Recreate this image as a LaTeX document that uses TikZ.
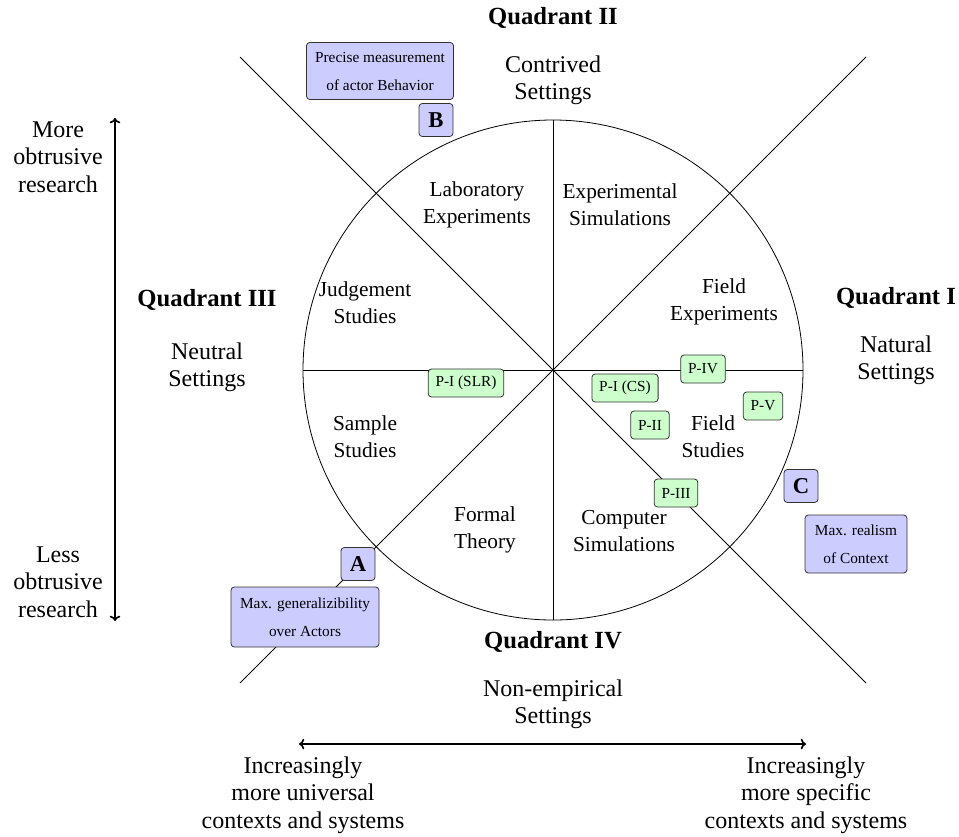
\documentclass[tikz,border=0pt]{standalone}
\usepackage{fontspec}
\setmainfont{Liberation Serif}
\usetikzlibrary{arrows.meta}
\definecolor{pboxfill}{HTML}{CCFFCC}
\definecolor{qboxfill}{HTML}{CCCCFF}
\definecolor{boxline}{HTML}{333333}
\begin{document}
\begin{tikzpicture}[x=0.75pt,y=-0.75pt,
  lbl/.style={align=center,font=\fontsize{16}{20.5}\selectfont,inner sep=0pt},
  outer/.style={align=center,font=\fontsize{18}{20.6}\selectfont,inner sep=0pt},
  quad/.style={font=\fontsize{18.5}{22}\selectfont\bfseries,inner sep=0pt},
  pbox/.style={draw=boxline,fill=pboxfill,rounded corners=2.5pt,line width=0.6pt,font=\fontsize{11.5}{14}\selectfont,inner xsep=5.5pt,inner ysep=2pt,minimum height=21pt},
  qbox/.style={draw=boxline,fill=qboxfill,rounded corners=2.5pt,line width=0.6pt,align=center,font=\fontsize{11.5}{21}\selectfont,inner sep=0pt},
  letter/.style={draw=boxline,fill=qboxfill,rounded corners=2.5pt,line width=0.6pt,font=\fontsize{17}{20}\selectfont\bfseries,minimum width=34*0.75pt,minimum height=33*0.75pt,inner sep=0pt},
  dbl/.style={line width=1.3pt,{To[length=4pt,width=8pt]}-{To[length=4pt,width=8pt]}},
  thin/.style={line width=0.6pt}]
\useasboundingbox (0,0) rectangle (959,836);
% main geometry
\coordinate (c) at (553,370);
\coordinate (d1a) at (240,57);
\coordinate (d1b) at (866,683);
\coordinate (d2a) at (866,57);
\coordinate (d2b) at (240,683);
\coordinate (vt) at (553,120);
\coordinate (vb) at (553,620);
\coordinate (hl) at (303,370);
\coordinate (hr) at (803,370);
\draw[thin] (c) circle[radius=250];
\draw[thin] (d1a) -- (d1b);
\draw[thin] (d2a) -- (d2b);
\draw[thin] (vt) -- (vb);
\draw[thin] (hl) -- (hr);
% quadrant labels
\node[quad] (q2) at (553,18) {Quadrant II};
\node[outer] (q2s) at (553,80) {Contrived\\Settings};
\node[quad] (q3) at (207,300) {Quadrant III};
\node[outer] (q3s) at (207,367) {Neutral\\Settings};
\node[quad] (q1) at (896,298) {Quadrant I};
\node[outer] (q1s) at (896,360) {Natural\\Settings};
\node[quad] (q4) at (553,642) {Quadrant IV};
\node[outer] (q4s) at (553,704) {Non-empirical\\Settings};
% sector labels
\node[lbl] (lab) at (477,205) {Laboratory\\Experiments};
\node[lbl] (esim) at (620,205) {Experimental\\Simulations};
\node[lbl] (judg) at (365,303) {Judgement\\Studies};
\node[lbl] (fexp) at (724,302) {Field\\Experiments};
\node[lbl] (samp) at (365,437) {Sample\\Studies};
\node[lbl] (fstud) at (713,437) {Field\\Studies};
\node[lbl] (form) at (485,530) {Formal\\Theory};
\node[lbl] (csim) at (624,531) {Computer\\Simulations};
% side axes
\node[outer] (more) at (58,157) {More\\obtrusive\\research};
\node[outer] (less) at (58,582) {Less\\obtrusive\\research};
\coordinate (at) at (115,118);
\coordinate (ab) at (115,621);
\draw[dbl] (ab) -- (at);
\node[outer] (univ) at (303,795) {Increasingly\\more universal\\contexts and systems};
\node[outer] (spec) at (806,795) {Increasingly\\more specific\\contexts and systems};
\coordinate (bl) at (299,744);
\coordinate (br) at (806,744);
\draw[dbl] (bl) -- (br);
% paper boxes
\node[pbox] (p1slr) at (466,383) {P-I (SLR)};
\node[pbox] (p1cs) at (625,388) {P-I (CS)};
\node[pbox] (p4) at (703,369) {P-IV};
\node[pbox] (p2) at (650,425) {P-II};
\node[pbox] (p5) at (763,406) {P-V};
\node[pbox] (p3) at (676,493) {P-III};
% criteria boxes
\node[qbox,minimum width=147*0.75pt,minimum height=57*0.75pt] (bb) at (380,71) {Precise measurement\\of actor Behavior};
\node[letter] (B) at (436,120) {B};
\node[letter] (A) at (358,564) {A};
\node[qbox,minimum width=148*0.75pt,minimum height=60*0.75pt] (ab2) at (305,617) {Max. generalizibility\\over Actors};
\node[letter] (C) at (801,486) {C};
\node[qbox,minimum width=102*0.75pt,minimum height=58*0.75pt] (cb) at (856,544) {Max. realism\\of Context};
\end{tikzpicture}
\end{document}
